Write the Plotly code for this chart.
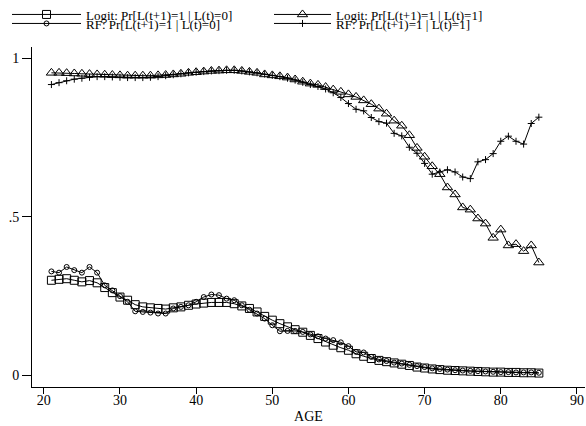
import plotly.graph_objects as go

age = list(range(21, 86))

logit_l0 = [0.300, 0.303, 0.305, 0.300, 0.295, 0.299, 0.292, 0.277, 0.261, 0.247,
            0.237, 0.223, 0.216, 0.213, 0.211, 0.209, 0.213, 0.216, 0.221, 0.225,
            0.228, 0.230, 0.230, 0.230, 0.226,
            0.219, 0.211, 0.200, 0.186, 0.174, 0.163, 0.153, 0.144, 0.136, 0.126,
            0.116, 0.105, 0.095, 0.087, 0.079, 0.068, 0.060, 0.053, 0.047, 0.043,
            0.039, 0.035, 0.031, 0.026, 0.023, 0.020, 0.018, 0.016, 0.015, 0.014,
            0.013, 0.012, 0.011, 0.010, 0.010, 0.009, 0.009, 0.008, 0.008, 0.007]

rf_l0 = [0.328, 0.324, 0.342, 0.332, 0.324, 0.342, 0.324, 0.284, 0.268, 0.250,
         0.232, 0.202, 0.200, 0.198, 0.195, 0.195, 0.211, 0.216, 0.221, 0.232,
         0.247, 0.255, 0.253, 0.242, 0.237, 0.221, 0.207, 0.195, 0.179, 0.158,
         0.139, 0.140, 0.140, 0.137, 0.129, 0.123, 0.116, 0.111, 0.104, 0.092,
         0.074, 0.072, 0.058,
         0.050, 0.045, 0.040, 0.037, 0.033, 0.029, 0.026, 0.022, 0.020, 0.018,
         0.016, 0.015, 0.014, 0.013, 0.012, 0.011, 0.010, 0.010, 0.009, 0.009,
         0.009, 0.008]

logit_l1 = [0.955, 0.955, 0.954, 0.953, 0.952, 0.951, 0.950, 0.949, 0.948, 0.947,
            0.946, 0.946, 0.946, 0.946, 0.947, 0.948, 0.950, 0.952, 0.955, 0.957,
            0.959, 0.961, 0.962, 0.963,
            0.963, 0.961, 0.958, 0.955, 0.950, 0.947, 0.944, 0.940, 0.934, 0.927,
            0.921, 0.917, 0.910, 0.902, 0.895, 0.887, 0.879, 0.868, 0.856, 0.842,
            0.826, 0.804, 0.788, 0.758, 0.718, 0.690, 0.660, 0.635, 0.593, 0.571,
            0.530, 0.523, 0.495, 0.479, 0.434, 0.460, 0.410, 0.414, 0.392, 0.410,
            0.356]

rf_l1 = [0.918, 0.924, 0.930, 0.935, 0.938, 0.941, 0.943, 0.943, 0.942, 0.941,
         0.940, 0.940, 0.940, 0.941, 0.943, 0.946, 0.949, 0.952, 0.955, 0.957,
         0.959, 0.961, 0.962, 0.963,
         0.963, 0.961, 0.958, 0.955, 0.951, 0.947, 0.943, 0.938, 0.932, 0.925,
         0.918, 0.912, 0.904, 0.892, 0.877, 0.858, 0.840, 0.835, 0.814, 0.801,
         0.796, 0.764, 0.756, 0.720, 0.701, 0.669, 0.635, 0.642, 0.649, 0.642,
         0.626, 0.621, 0.674, 0.681, 0.700, 0.739, 0.755, 0.739, 0.730, 0.795,
         0.815]

names = ["Logit: Pr[L(t+1)=1 | L(t)=0]", "Logit: Pr[L(t+1)=1 | L(t)=1]",
         "RF: Pr[L(t+1)=1 | L(t)=0]", "RF: Pr[L(t+1)=1 | L(t)=1]"]

x_ticks = [20, 30, 40, 50, 60, 70, 80, 90]
y_ticks = [0, 0.5, 1]
y_ticklabels = ["0", ".5", "1"]

FONT = "Liberation Serif"
W, H = 586, 426

fig = go.Figure()

series = [
    (logit_l0, names[0], "square-open", 8, "legend"),
    (logit_l1, names[1], "triangle-up-open", 9, "legend2"),
    (rf_l0, names[2], "circle-open", 5, "legend3"),
    (rf_l1, names[3], "cross-thin-open", 5, "legend4"),
]
for ys, nm, sym, sz, lg in series:
    fig.add_trace(go.Scatter(
        x=age, y=ys, name=nm, mode="lines+markers",
        line=dict(color="black", width=1),
        marker=dict(symbol=sym, size=sz, color="black", line=dict(color="black", width=1)),
        legend=lg,
    ))

def leg(xpx, ypx, itemw):
    return dict(
        xref="container", yref="container",
        x=xpx / W, y=1 - ypx / H, xanchor="left", yanchor="middle",
        orientation="h", bgcolor="rgba(0,0,0,0)", borderwidth=0,
        itemwidth=itemw, font=dict(family=FONT, size=13, color="black"),
        tracegroupgap=0,
    )

fig.update_layout(
    width=W, height=H,
    margin=dict(l=32, r=1, t=47, b=39),
    paper_bgcolor="white", plot_bgcolor="white",
    font=dict(family=FONT, size=14, color="black"),
    showlegend=True,
    legend=leg(7, 14.5, 69),
    legend2=leg(269, 14.5, 57),
    legend3=leg(7, 23.5, 69),
    legend4=leg(269, 23.5, 57),
    xaxis=dict(
        range=[18.45, 91.06], tickvals=x_ticks, ticks="outside", ticklen=6,
        tickcolor="black", showline=True, linecolor="black", linewidth=1,
        showgrid=False, zeroline=False, ticklabelstandoff=-6,
        title=dict(text="AGE", font=dict(family=FONT, size=14), standoff=4),
        tickfont=dict(family=FONT, size=14),
    ),
    yaxis=dict(
        range=[-0.037, 1.0366], tickvals=y_ticks, ticktext=y_ticklabels,
        ticks="outside", ticklen=9, tickcolor="black", showline=True,
        linecolor="black", linewidth=1, showgrid=False, zeroline=False,
        tickfont=dict(family=FONT, size=14),
    ),
)

fig.write_html("out.html")
